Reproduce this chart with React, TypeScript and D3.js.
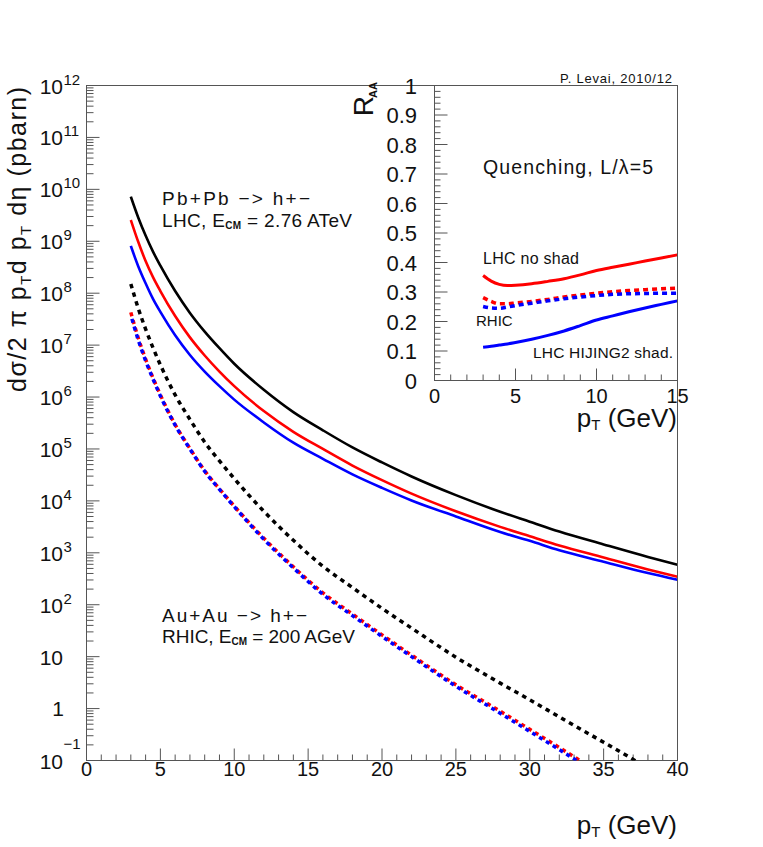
import React from "react";
import * as d3 from "d3";

const W = 763;
const H = 847;
const FONT = "'Liberation Sans', Arial, Helvetica, sans-serif";

// LHC Pb+Pb -> h+-, 2.76 ATeV, dsigma/(2 pi pT dpT deta) in pbarn
const lhcPt = [3, 3.5, 4, 4.5, 5, 6, 7, 8, 9, 10, 12, 14, 16, 18, 20, 22, 25, 28, 30, 32, 35, 38, 40];
const lhcPP = [7.24e9, 2.88e9, 1.29e9, 6.31e8, 3.39e8, 1.1e8, 4.17e7, 1.82e7, 8.71e6, 4.37e6, 1.38e6, 5.13e5, 2.29e5, 1.07e5, 5.5e4, 2.95e4, 1.29e4, 6.17e3, 3.98e3, 2.57e3, 1.45e3, 832, 589];
const lhcNoShad = [2.57e9, 9.77e8, 4.17e8, 2.04e8, 1.1e8, 3.63e7, 1.41e7, 6.31e6, 3.09e6, 1.62e6, 5.37e5, 2.14e5, 1.0e5, 4.79e4, 2.51e4, 1.38e4, 6.31e3, 3.16e3, 2.09e3, 1.38e3, 813, 479, 347];
const lhcShad = [8.13e8, 3.31e8, 1.55e8, 7.76e7, 4.37e7, 1.55e7, 6.46e6, 3.09e6, 1.62e6, 8.91e5, 3.24e5, 1.32e5, 6.46e4, 3.24e4, 1.78e4, 1.02e4, 5.01e3, 2.51e3, 1.7e3, 1.12e3, 676, 407, 302];

// RHIC Au+Au -> h+-, 200 AGeV
const rhicPt = [3, 3.5, 4, 4.5, 5, 6, 7, 8, 9, 10, 12, 14, 16, 18, 20, 22, 25, 28, 30, 32, 35, 37, 38];
const rhicPP = [1.51e8, 5.13e7, 2.04e7, 8.91e6, 4.17e6, 1.1e6, 3.72e5, 1.35e5, 5.89e4, 2.69e4, 6.31e3, 1.74e3, 550, 214, 85.1, 35.5, 9.77, 3.09, 1.48, 0.692, 0.224, 0.105, 0.0708];
const rhicAAPt = [3, 3.5, 4, 4.5, 5, 6, 7, 8, 9, 10, 12, 14, 16, 18, 20, 22, 25, 28, 30, 32, 34];
const rhicNoShad = [4.27e7, 1.38e7, 5.37e6, 2.34e6, 1.1e6, 2.95e5, 1.02e5, 3.8e4, 1.7e4, 7.94e3, 1.91e3, 537, 170, 66.1, 26.3, 10.7, 2.88, 0.891, 0.398, 0.178, 0.0776];
const rhicShad = [3.8e7, 1.26e7, 5.01e6, 2.24e6, 1.05e6, 2.88e5, 1.0e5, 3.72e4, 1.66e4, 7.76e3, 1.82e3, 513, 158, 61.7, 24.5, 10.0, 2.69, 0.813, 0.363, 0.162, 0.0708];

// inset: R_AA
const raaPt = [3, 3.5, 4, 4.5, 5, 6, 7, 8, 9, 10, 11, 12, 13, 14, 15];
const raaLhcNoShad = [0.356, 0.337, 0.326, 0.322, 0.323, 0.328, 0.336, 0.345, 0.358, 0.373, 0.384, 0.394, 0.405, 0.415, 0.426];
const raaLhcShad = [0.113, 0.116, 0.12, 0.124, 0.129, 0.14, 0.153, 0.168, 0.186, 0.205, 0.219, 0.233, 0.246, 0.258, 0.27];
const raaRhicNoShad = [0.281, 0.268, 0.26, 0.26, 0.263, 0.268, 0.275, 0.283, 0.29, 0.296, 0.301, 0.305, 0.308, 0.311, 0.313];
const raaRhicShad = [0.251, 0.246, 0.245, 0.249, 0.254, 0.262, 0.27, 0.277, 0.283, 0.288, 0.292, 0.294, 0.295, 0.296, 0.296];

// ticks
const mainXTicks = [0, 5, 10, 15, 20, 25, 30, 35, 40];
const mainYExps = [-1, 0, 1, 2, 3, 4, 5, 6, 7, 8, 9, 10, 11, 12];
const insetXTicks = [0, 5, 10, 15];
const insetYTicks = [0, 0.1, 0.2, 0.3, 0.4, 0.5, 0.6, 0.7, 0.8, 0.9, 1];
const insetYLabels = ["0", "0.1", "0.2", "0.3", "0.4", "0.5", "0.6", "0.7", "0.8", "0.9", "1"];

const AX = "#555";
const TXT = "#111";

export default function App() {
  const x = d3.scaleLinear().domain([0, 40]).range([86.5, 677.5]);
  const y = d3.scaleLog().domain([0.1, 1e12]).range([760.5, 85.5]);
  const ix = d3.scaleLinear().domain([0, 15]).range([434.5, 677.5]);
  const iy = d3.scaleLinear().domain([0, 1]).range([380.5, 85.5]);

  const mainLine = (xs: number[], ys: number[]) =>
    d3
      .line<number>()
      .x((_, i) => x(xs[i]))
      .y((d) => y(d))
      .curve(d3.curveMonotoneX)(ys) || "";
  const insetLine = (ys: number[]) =>
    d3
      .line<number>()
      .x((_, i) => ix(raaPt[i]))
      .y((d) => iy(d))
      .curve(d3.curveMonotoneX)(ys) || "";

  // minor ticks
  const xMinor = d3.range(0, 41, 1);
  const yMinor: number[] = [];
  for (let e = -1; e < 12; e++) for (let m = 2; m <= 9; m++) yMinor.push(m * Math.pow(10, e));
  const ixMinor = d3.range(0, 16, 1);
  const iyMinor = d3.range(0, 1.0001, 0.02);

  return (
    <svg
      width={W}
      height={H}
      style={{ position: "absolute", left: 0, top: 0, background: "#fff" }}
      fontFamily={FONT}
    >
      <defs>
        <clipPath id="mainClip">
          <rect x={86.5} y={85.5} width={591} height={675} />
        </clipPath>
      </defs>

      {/* main frame */}
      <rect x={86.5} y={85.5} width={591} height={675} fill="none" stroke={AX} strokeWidth={1} />

      {/* main x ticks */}
      {xMinor.map((t) => (
        <line key={"xm" + t} x1={x(t)} x2={x(t)} y1={760.5} y2={760.5 - (t % 5 === 0 ? 12 : 6)} stroke={AX} />
      ))}
      {mainXTicks.map((t) => (
        <text key={"xl" + t} x={x(t)} y={776} fontSize={20} textAnchor="middle" fill={TXT}>
          {t}
        </text>
      ))}

      {/* main y ticks */}
      {mainYExps.map((e) => (
        <line key={"yM" + e} x1={86.5} x2={99.5} y1={y(Math.pow(10, e))} y2={y(Math.pow(10, e))} stroke={AX} />
      ))}
      {yMinor.map((v, i) => (
        <line key={"ym" + i} x1={86.5} x2={93.5} y1={y(v)} y2={y(v)} stroke={AX} />
      ))}
      {mainYExps.map((e) => {
        const ty = y(Math.pow(10, e));
        if (e === 0)
          return (
            <text key={"yl" + e} x={64} y={ty + 7.5} fontSize={21} textAnchor="end" fill={TXT}>
              1
            </text>
          );
        if (e === 1)
          return (
            <text key={"yl" + e} x={63} y={ty + 8} fontSize={21} textAnchor="end" fill={TXT}>
              10
            </text>
          );
        return (
          <g key={"yl" + e} fill={TXT}>
            <text x={63} y={ty + 8} fontSize={21} textAnchor="end">
              10
            </text>
            <text x={63.5} y={e < 0 ? ty - 12 : ty - 1} fontSize={15}>
              {e < 0 ? "\u2212" + Math.abs(e) : e}
            </text>
          </g>
        );
      })}

      {/* main curves */}
      <g clipPath="url(#mainClip)" fill="none">
        <path d={mainLine(lhcPt, lhcPP)} stroke="#000" strokeWidth={2.6} />
        <path d={mainLine(lhcPt, lhcNoShad)} stroke="#ff0000" strokeWidth={2.6} />
        <path d={mainLine(lhcPt, lhcShad)} stroke="#0000ff" strokeWidth={2.6} />
        <path d={mainLine(rhicPt, rhicPP)} stroke="#000" strokeWidth={3.5} strokeDasharray="4.5 4.5" />
        <path d={mainLine(rhicAAPt, rhicNoShad)} stroke="#ff0000" strokeWidth={3.5} strokeDasharray="4 4" />
        <path
          d={mainLine(rhicAAPt, rhicShad)}
          stroke="#0000ff"
          strokeWidth={3.5}
          strokeDasharray="4 4"
          strokeDashoffset={4}
        />
      </g>

      {/* inset */}
      <rect x={434.5} y={85.5} width={243} height={295} fill="#fff" stroke={AX} strokeWidth={1} />
      {ixMinor.map((t) => (
        <line key={"ixm" + t} x1={ix(t)} x2={ix(t)} y1={380.5} y2={380.5 - (t % 5 === 0 ? 12 : 6)} stroke={AX} />
      ))}
      {iyMinor.map((t, i) => (
        <line key={"iym" + i} x1={434.5} x2={434.5 + (i % 5 === 0 ? 13 : 6)} y1={iy(t)} y2={iy(t)} stroke={AX} />
      ))}
      {insetXTicks.map((t) => (
        <text key={"ixl" + t} x={ix(t)} y={403} fontSize={20} textAnchor="middle" fill={TXT}>
          {t}
        </text>
      ))}
      {insetYTicks.map((t, i) => (
        <text key={"iyl" + t} x={417} y={iy(t) + 8} fontSize={22} textAnchor="end" fill={TXT}>
          {insetYLabels[i]}
        </text>
      ))}
      <g fill="none">
        <path d={insetLine(raaLhcNoShad)} stroke="#ff0000" strokeWidth={3} />
        <path d={insetLine(raaLhcShad)} stroke="#0000ff" strokeWidth={3} />
        <path d={insetLine(raaRhicNoShad)} stroke="#ff0000" strokeWidth={3.5} strokeDasharray="5 4" />
        <path d={insetLine(raaRhicShad)} stroke="#0000ff" strokeWidth={3.5} strokeDasharray="5 4" />
      </g>
      {/* right frame line over the 15 label */}
      <line x1={677.5} x2={677.5} y1={85.5} y2={760.5} stroke={AX} />

      {/* axis titles */}
      <text transform="translate(26,87) rotate(-90)" textAnchor="end" fontSize={25} fill={TXT} textLength={305} lengthAdjust="spacing">
        d{"\u03c3"}/2 {"\u03c0"} p
        <tspan fontSize={15} dy={5}>T</tspan>
        <tspan dy={-5}>d p</tspan>
        <tspan fontSize={15} dy={5}>T</tspan>
        <tspan dy={-5}> d{"\u03b7"} (pbarn)</tspan>
      </text>
      <text x={677} y={834} textAnchor="end" fontSize={26} fill={TXT}>
        p<tspan fontSize={15} dy={3}>T</tspan>
        <tspan dy={-3}> (GeV)</tspan>
      </text>
      <text x={677} y={427} textAnchor="end" fontSize={26} fill={TXT}>
        p<tspan fontSize={15} dy={3}>T</tspan>
        <tspan dy={-3}> (GeV)</tspan>
      </text>
      <text transform="translate(373,82) rotate(-90)" textAnchor="end" fontSize={28} fill={TXT}>
        R
        <tspan fontSize={11} fontWeight="bold" dy={4} dx={-2}>
          AA
        </tspan>
      </text>

      {/* annotations */}
      <text x={560} y={83} fontSize={13} fill={TXT} textLength={112} lengthAdjust="spacing">
        P. Levai, 2010/12
      </text>
      <text x={483} y={174} fontSize={19.5} fill={TXT} textLength={170} lengthAdjust="spacing">
        Quenching, L/{"\u03bb"}=5
      </text>
      <text x={483} y={264} fontSize={16} fill={TXT} textLength={96} lengthAdjust="spacing">
        LHC no shad
      </text>
      <text x={476} y={326} fontSize={15} fill={TXT}>
        RHIC
      </text>
      <text x={533} y={358} fontSize={15.5} fill={TXT} textLength={140} lengthAdjust="spacing">
        LHC HIJING2 shad.
      </text>

      <text x={162} y={205} fontSize={19} fill={TXT} textLength={148} lengthAdjust="spacing">
        Pb+Pb {"\u2212"}&gt; h+{"\u2212"}
      </text>
      <text x={162} y={227} fontSize={19} fill={TXT} textLength={190} lengthAdjust="spacing">
        LHC, E<tspan fontSize={10} fontWeight="bold" dy={2}>CM</tspan>
        <tspan dy={-2}> = 2.76 ATeV</tspan>
      </text>
      <text x={162} y={621.5} fontSize={19} fill={TXT} textLength={145} lengthAdjust="spacing">
        Au+Au {"\u2212"}&gt; h+{"\u2212"}
      </text>
      <text x={162} y={643} fontSize={19} fill={TXT} textLength={193} lengthAdjust="spacing">
        RHIC, E<tspan fontSize={10} fontWeight="bold" dy={2}>CM</tspan>
        <tspan dy={-2}> = 200 AGeV</tspan>
      </text>
    </svg>
  );
}
